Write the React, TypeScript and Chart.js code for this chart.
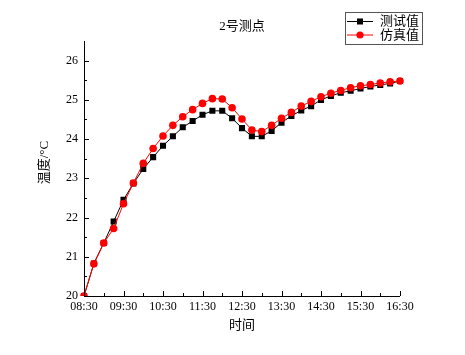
import React, { useEffect, useRef } from "react";
import { Chart, registerables } from "chart.js";

Chart.register(...registerables);

const times = [
  "08:30", "08:45", "09:00", "09:15", "09:30", "09:45", "10:00", "10:15",
  "10:30", "10:45", "11:00", "11:15", "11:30", "11:45", "12:00", "12:15",
  "12:30", "12:45", "13:00", "13:15", "13:30", "13:45", "14:00", "14:15",
  "14:30", "14:45", "15:00", "15:15", "15:30", "15:45", "16:00", "16:15",
  "16:30",
];

const measured = [
  20.0, 20.83, 21.35, 21.9, 22.45, 22.87, 23.24, 23.54,
  23.83, 24.07, 24.3, 24.46, 24.62, 24.72, 24.72, 24.53,
  24.28, 24.07, 24.07, 24.21, 24.42, 24.59, 24.73, 24.84,
  25.0, 25.1, 25.18, 25.23, 25.29, 25.34, 25.38, 25.42,
  25.48,
];

const simulated = [
  20.0, 20.82, 21.35, 21.72, 22.35, 22.88, 23.38, 23.76,
  24.08, 24.35, 24.57, 24.75, 24.91, 25.03, 25.02, 24.8,
  24.51, 24.23, 24.19, 24.35, 24.53, 24.68, 24.84, 24.96,
  25.08, 25.17, 25.24, 25.31, 25.36, 25.39, 25.43, 25.46,
  25.48,
];

const seriesNames = ["测试值", "仿真值"];
const chartTitle = "2号测点";
const xTitle = "时间";
const yTitle = "温度/°C";
const yMin = 20;
const yMax = 26.5;

const SERIF = "'Liberation Serif', 'Times New Roman', 'Noto Sans CJK SC', serif";
const CJK = "'Liberation Serif', 'Noto Sans CJK SC', serif";

const overlayPlugin = {
  id: "overlay",
  afterDraw(chart: any) {
    const ctx = chart.ctx;
    const area = chart.chartArea;
    const xs = chart.scales.x;
    const ys = chart.scales.y;
    ctx.save();
    ctx.strokeStyle = "#000";
    ctx.lineWidth = 1;
    // axes
    ctx.beginPath();
    ctx.moveTo(Math.round(area.left) + 0.5, area.top);
    ctx.lineTo(Math.round(area.left) + 0.5, Math.round(area.bottom) + 0.5);
    ctx.lineTo(area.right, Math.round(area.bottom) + 0.5);
    ctx.stroke();
    // x ticks (inward)
    ctx.beginPath();
    times.forEach((t, i) => {
      const m = t.slice(3);
      let len = 0;
      if (m === "30") len = 5;
      else if (m === "00") len = 3;
      if (!len) return;
      const px = Math.round(xs.getPixelForValue(i)) + 0.5;
      ctx.moveTo(px, area.bottom);
      ctx.lineTo(px, area.bottom - len);
    });
    // y ticks (inward)
    for (let v = yMin; v <= 26; v += 0.5) {
      const major = Math.abs(v - Math.round(v)) < 1e-6;
      const py = Math.round(ys.getPixelForValue(v)) + 0.5;
      ctx.moveTo(area.left, py);
      ctx.lineTo(area.left + (major ? 5 : 3), py);
    }
    ctx.stroke();

    // titles
    ctx.fillStyle = "#000";
    ctx.textAlign = "center";
    ctx.textBaseline = "middle";
    ctx.font = `13px ${CJK}`;
    ctx.fillText(chartTitle, (area.left + area.right) / 2, 27);
    ctx.fillText(xTitle, (area.left + area.right) / 2, 326);
    ctx.save();
    ctx.translate(45, (area.top + area.bottom) / 2 - 6);
    ctx.rotate(-Math.PI / 2);
    ctx.fillText(yTitle, 0, 0);
    ctx.restore();

    // legend
    const bx = 345.5, by = 12.5, bw = 77, bh = 32;
    ctx.strokeStyle = "#555";
    ctx.lineWidth = 1;
    ctx.strokeRect(bx, by, bw, bh);
    const rows = [
      { y: 21.5, color: "#000", shape: "rect" },
      { y: 35, color: "#ff0000", shape: "circle" },
    ];
    rows.forEach((r, i) => {
      ctx.strokeStyle = r.color;
      ctx.fillStyle = r.color;
      ctx.beginPath();
      ctx.moveTo(347, r.y);
      ctx.lineTo(373, r.y);
      ctx.stroke();
      ctx.beginPath();
      if (r.shape === "rect") ctx.rect(357, r.y - 3, 6, 6);
      else ctx.arc(360, r.y, 3.6, 0, Math.PI * 2);
      ctx.fill();
      ctx.fillStyle = "#000";
      ctx.textAlign = "left";
      ctx.font = `13px ${CJK}`;
      ctx.fillText(seriesNames[i], 380, r.y + 0.5);
    });
    ctx.restore();
  },
};

export default function App() {
  const ref = useRef<HTMLCanvasElement>(null);
  useEffect(() => {
    if (!ref.current) return;
    const chart = new Chart(ref.current, {
      type: "line",
      data: {
        labels: times,
        datasets: [
          {
            label: seriesNames[1],
            data: simulated,
            borderColor: "#ff0000",
            backgroundColor: "#ff0000",
            borderWidth: 1,
            pointStyle: "circle",
            pointRadius: 3.8,
            pointBorderWidth: 0,
            tension: 0,
            order: 0,
          },
          {
            label: seriesNames[0],
            data: measured,
            borderColor: "#000",
            backgroundColor: "#000",
            borderWidth: 1,
            pointStyle: "rect",
            pointRadius: 4.3,
            pointBorderWidth: 0,
            tension: 0,
            order: 1,
          },
        ],
      },
      options: {
        responsive: false,
        animation: false,
        devicePixelRatio: 1,
        layout: { padding: { left: 0, top: 41, right: 65, bottom: 0 } },
        plugins: {
          legend: { display: false },
          title: { display: false },
          tooltip: { enabled: false },
        },
        scales: {
          x: {
            type: "category",
            offset: false,
            grid: { display: false, drawTicks: false },
            border: { display: false },
            ticks: {
              autoSkip: false,
              maxRotation: 0,
              padding: 4,
              color: "#000",
              font: { family: SERIF, size: 12 },
              callback: (_v: any, i: number) => (times[i].slice(3) === "30" ? times[i] : ""),
            },
            afterFit: (s: any) => {
              s.height = 59;
            },
          },
          y: {
            min: yMin,
            max: yMax,
            grid: { display: false, drawTicks: false },
            border: { display: false },
            ticks: {
              stepSize: 1,
              includeBounds: false,
              padding: 6,
              color: "#000",
              font: { family: SERIF, size: 12 },
            },
            afterFit: (s: any) => {
              s.width = 84;
            },
          },
        },
      },
      plugins: [overlayPlugin],
    });
    return () => chart.destroy();
  }, []);
  return (
    <div style={{ position: "fixed", left: 0, top: 0, width: 465, height: 355, background: "#fff" }}>
      <canvas ref={ref} width={465} height={355} style={{ width: 465, height: 355 }} />
    </div>
  );
}
